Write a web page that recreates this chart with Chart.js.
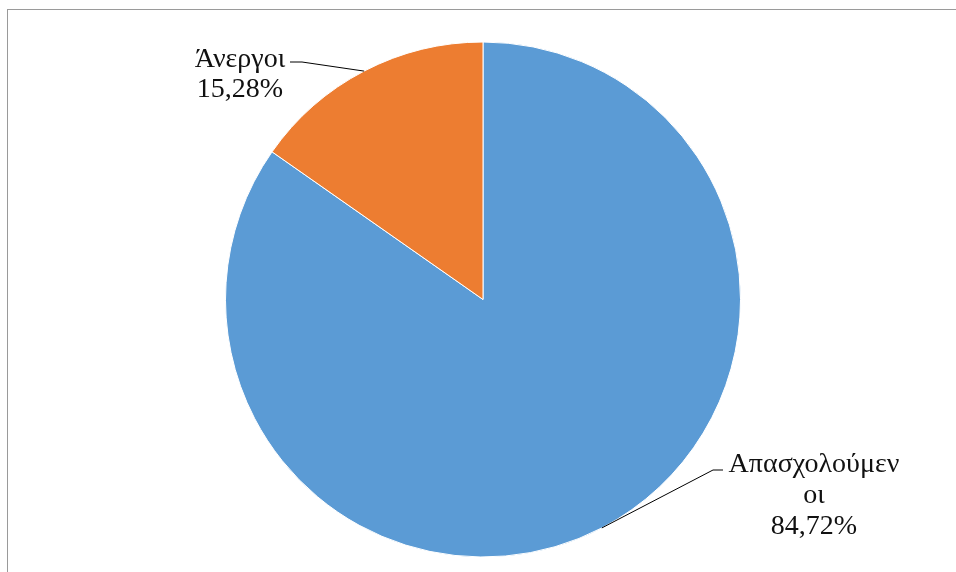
<!DOCTYPE html>
<html>
<head>
<meta charset="utf-8">
<script src="https://cdn.jsdelivr.net/npm/chart.js@4/dist/chart.umd.min.js"></script>
<style>
  html, body { margin: 0; padding: 0; background: #ffffff; overflow: hidden; }
  #wrap { position: relative; width: 956px; height: 572px; }
  #frame { position: absolute; left: 7px; top: 9px; width: 1000px; height: 600px;
           border-left: 1px solid #9a9a9a; border-top: 1px solid #9a9a9a; pointer-events: none; }
  canvas { position: absolute; left: 0; top: 0; }
</style>
</head>
<body>
<div id="wrap">
  <canvas id="c" width="956" height="572"></canvas>
  <div id="frame"></div>
</div>
<script>
// ---- data ----
const categories = ['Απασχολούμενοι', 'Άνεργοι'];
const values = [84.72, 15.28];
const labelNameLines = [['Απασχολούμεν', 'οι'], ['Άνεργοι']];
const sliceColors = ['#5B9BD5', '#ED7D31'];

// ---- label layout (positions/styles, not data) ----
const labelLayout = [
  { elbowX: 713, elbowY: 470, endX: 723, textX: 814, firstBaseline: 472, lineHeight: 31 },
  { elbowX: 302, elbowY: 62, endX: 290, textX: 240, firstBaseline: 67, lineHeight: 30 }
];

function fmtPct(v) { return v.toFixed(2).replace('.', ',') + '%'; }

const pieLabels = {
  id: 'pieLabels',
  afterDatasetsDraw(chart) {
    const ctx = chart.ctx;
    const meta = chart.getDatasetMeta(0);
    ctx.save();
    meta.data.forEach((arc, i) => {
      const p = arc.getProps(['x', 'y', 'startAngle', 'endAngle', 'outerRadius'], true);
      const mid = (p.startAngle + p.endAngle) / 2;
      const ax = p.x + Math.cos(mid) * p.outerRadius;
      const ay = p.y + Math.sin(mid) * p.outerRadius;
      const L = labelLayout[i];
      ctx.strokeStyle = '#000000';
      ctx.lineWidth = 1;
      ctx.beginPath();
      ctx.moveTo(ax, ay);
      ctx.lineTo(L.elbowX, L.elbowY);
      ctx.lineTo(L.endX, L.elbowY);
      ctx.stroke();
      const lines = labelNameLines[i].concat([fmtPct(values[i])]);
      ctx.fillStyle = '#111111';
      ctx.font = '28px "Liberation Serif", "DejaVu Serif", serif';
      ctx.textAlign = 'center';
      ctx.textBaseline = 'alphabetic';
      lines.forEach((t, k) => ctx.fillText(t, L.textX, L.firstBaseline + k * L.lineHeight));
    });
    ctx.restore();
  }
};

new Chart(document.getElementById('c'), {
  type: 'pie',
  data: {
    labels: categories,
    datasets: [{
      data: values,
      backgroundColor: sliceColors,
      borderColor: '#ffffff',
      borderWidth: 1
    }]
  },
  options: {
    responsive: false,
    devicePixelRatio: 1,
    animation: false,
    layout: { padding: { left: 225, right: 215, top: 41, bottom: 14 } },
    plugins: { legend: { display: false }, tooltip: { enabled: false } }
  },
  plugins: [pieLabels]
});
</script>
</body>
</html>
